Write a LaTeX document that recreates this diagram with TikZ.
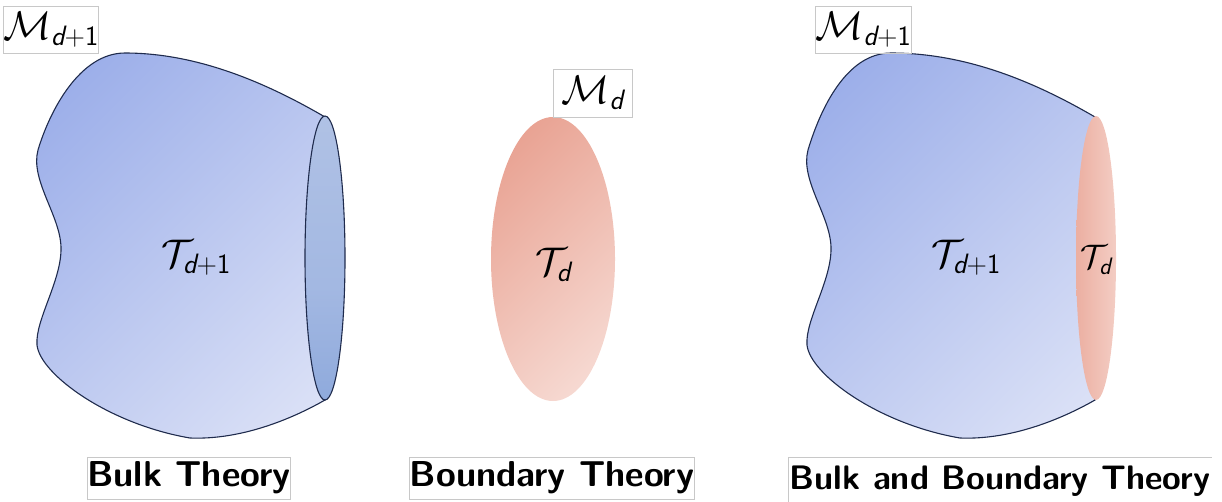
\RequirePackage{fix-cm}
\documentclass[tikz,border=0pt]{standalone}
\usepackage{amsmath}
\definecolor{blobA}{HTML}{95A9E8}
\definecolor{blobB}{HTML}{DFE4F7}
\definecolor{rimTop}{HTML}{B6C6E6}
\definecolor{rimMid}{HTML}{A3B8E2}
\definecolor{rimDark}{HTML}{8CA8DB}
\definecolor{rimLow}{HTML}{BCCAE9}
\definecolor{redA}{HTML}{E8A090}
\definecolor{redB}{HTML}{F7DCD5}
\definecolor{outl}{HTML}{1F2B4D}
\definecolor{boxgray}{HTML}{C8C8C8}
\pgfdeclarehorizontalshading{bulkshade}{100bp}{color(0bp)=(blobA); color(15bp)=(blobA); color(85bp)=(blobB); color(100bp)=(blobB)}
\pgfdeclarehorizontalshading{redshade}{100bp}{color(0bp)=(redA); color(20bp)=(redA); color(80bp)=(redB); color(100bp)=(redB)}
\pgfdeclarehorizontalshading{redflat}{100bp}{color(0bp)=(redA); color(100bp)=(redB)}
\pgfdeclareverticalshading{rimshade}{100bp}{color(0bp)=(rimLow); color(8bp)=(rimLow); color(22bp)=(rimDark); color(45bp)=(rimMid); color(90bp)=(rimTop); color(100bp)=(rimTop)}
\newcommand{\dsub}{\textsf{\itshape d}}
\newcommand{\done}{\textsf{\itshape d}\textsf{+1}}
\begin{document}
\begin{tikzpicture}[x=1pt,y=-1pt,
  outline/.style={draw=outl, line width=1.1pt},
  bulkfill/.style={shading=bulkshade, shading angle=-45},
  tagbox/.style={draw=boxgray, line width=0.8pt, inner sep=0pt, font=\fontsize{40}{48}\selectfont},
  mathlbl/.style={inner sep=0pt, font=\fontsize{40}{48}\selectfont},
  capbox/.style={draw=boxgray, line width=0.8pt, inner sep=0pt, font=\fontsize{36}{43}\selectfont\sffamily\bfseries}
]
\useasboundingbox (0,0) rectangle (1222,501);
% ---------- left: bulk ----------
\path[outline, bulkfill] (125,53) .. controls (80,53) and (50,110) .. (38,150)
  .. controls (30,180) and (60,215) .. (61,247)
  .. controls (62,280) and (35,320) .. (37,345)
  .. controls (40,374) and (108,424) .. (190,438)
  .. controls (240,440) and (290,420) .. (325,400)
  -- (325,117) .. controls (270,85) and (200,53) .. (125,53) -- cycle;
\path[outline, shading=rimshade] (325,258) ellipse [x radius=20pt, y radius=142pt];
\node[mathlbl] (t1) at (196,258) {$\mathcal{T}_{\done}$};
\node[tagbox, minimum width=88pt, minimum height=47pt] (m1) at (51,29.5) {$\mathcal{M}_{\done}$};
\node[capbox, minimum width=202pt, minimum height=42pt] (c1) at (189,478) {Bulk Theory};
% ---------- middle: boundary ----------
\path[shading=redshade, shading angle=-45] (553,259) ellipse [x radius=62pt, y radius=142pt];
\node[mathlbl] (t2) at (553,265) {$\mathcal{T}_{\dsub}$};
\node[tagbox, minimum width=79pt, minimum height=48pt] (m2) at (592.5,93) {$\mathcal{M}_{\dsub}$};
\node[capbox, minimum width=282pt, minimum height=42pt] (c2) at (552,478) {Boundary Theory};
% ---------- right: bulk and boundary ----------
\begin{scope}[xshift=770pt]
\path[outline, bulkfill] (121,53) .. controls (76,53) and (50,110) .. (38,150)
  .. controls (30,180) and (60,215) .. (61,247)
  .. controls (62,280) and (35,320) .. (37,345)
  .. controls (40,374) and (108,424) .. (190,438)
  .. controls (240,440) and (290,420) .. (325,400)
  -- (325,117) .. controls (270,85) and (200,53) .. (121,53) -- cycle;
\end{scope}
\path[shading=redflat] (1096,258) ellipse [x radius=20pt, y radius=142pt];
\node[mathlbl] (t3) at (966,258) {$\mathcal{T}_{\done}$};
\node[inner sep=0pt, font=\fontsize{34}{40}\selectfont] (t4) at (1096,260) {$\mathcal{T}_{\dsub}$};
\node[tagbox, minimum width=89pt, minimum height=47pt] (m3) at (863.5,29.5) {$\mathcal{M}_{\done}$};
\node[capbox, draw=none, font=\fontsize{34}{41}\selectfont\sffamily\bfseries, minimum width=423pt, minimum height=48pt, anchor=north west] (c3) at (788,457) {Bulk and Boundary Theory};
\draw[boxgray, line width=0.8pt] (c3.south west) -- (c3.north west) -- (c3.north east);
\end{tikzpicture}
\end{document}
